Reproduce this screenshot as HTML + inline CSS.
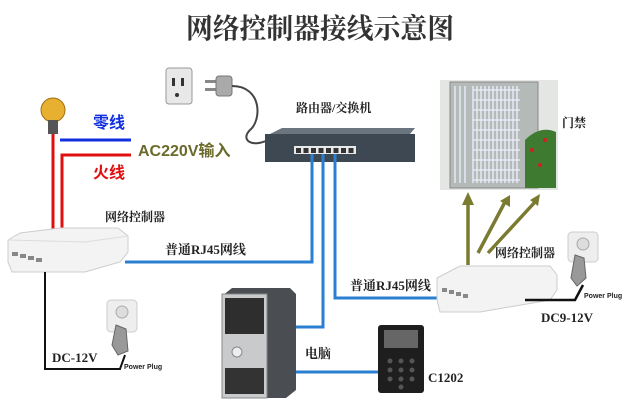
<!DOCTYPE html>
<html><head><meta charset="utf-8"><style>
body{margin:0;background:#fff;width:644px;height:410px;overflow:hidden}
svg{display:block}
text{font-family:"Liberation Serif","Noto Serif CJK SC",serif;font-weight:bold}
.s{font-family:"Liberation Sans","Noto Sans CJK SC",sans-serif}
</style></head><body>
<svg width="644" height="410" viewBox="0 0 644 410" xmlns="http://www.w3.org/2000/svg">
<rect width="644" height="410" fill="#fff"/>
<text x="320" y="38" text-anchor="middle" font-size="28" fill="#333" textLength="268" lengthAdjust="spacingAndGlyphs">网络控制器接线示意图</text>

<!-- bulb -->
<circle cx="53" cy="110" r="12" fill="#e8b030" stroke="#a07010"/>
<rect x="48" y="120" width="10" height="14" fill="#555"/>
<!-- wires -->
<path d="M53 134 V230" stroke="#e01010" stroke-width="3" fill="none"/>
<path d="M62 230 V155 H131" stroke="#e01010" stroke-width="3" fill="none"/>
<path d="M60 140 H131" stroke="#1030e0" stroke-width="3" fill="none"/>
<text x="93" y="128" font-size="16" fill="#1030e0" class="s" font-weight="bold">零线</text>
<text x="93" y="178" font-size="16" fill="#e01010" class="s" font-weight="bold">火线</text>
<text x="138" y="156" font-size="16" fill="#6a6a2a" class="s" font-weight="bold">AC220V输入</text>

<!-- outlet & plug -->
<rect x="166" y="68" width="26" height="36" rx="3" fill="#e8e8e8" stroke="#999"/>
<rect x="172" y="78" width="3" height="8" fill="#333"/><rect x="181" y="78" width="3" height="8" fill="#333"/>
<circle cx="177" cy="95" r="2" fill="#333"/>
<rect x="205" y="80" width="12" height="3" fill="#888"/><rect x="205" y="88" width="12" height="3" fill="#888"/>
<rect x="216" y="76" width="16" height="20" rx="3" fill="#aaa" stroke="#777"/>
<path d="M232 86 C262 86,262 120,250 130 C240 140,252 148,268 140" stroke="#444" stroke-width="2" fill="none"/>

<!-- switch -->
<text x="296" y="112" font-size="12" fill="#222">路由器/交换机</text>
<path d="M268 135 L282 128 H415 L410 134Z" fill="#6a7580"/>
<rect x="265" y="134" width="150" height="28" fill="#3e4852"/>
<rect x="294" y="146" width="62" height="8" fill="#e8e8e8"/>
<g fill="#333">
<rect x="296" y="148" width="5" height="5"/><rect x="303.5" y="148" width="5" height="5"/><rect x="311" y="148" width="5" height="5"/><rect x="318.5" y="148" width="5" height="5"/><rect x="326" y="148" width="5" height="5"/><rect x="333.5" y="148" width="5" height="5"/><rect x="341" y="148" width="5" height="5"/><rect x="348.5" y="148" width="5" height="5"/>
</g>

<!-- blue network lines -->
<g stroke="#2a7fd0" stroke-width="3" fill="none">
<path d="M125 262 H312 V154"/>
<path d="M295 327 H323 V154"/>
<path d="M335 154 V298 H442"/>
<path d="M295 372 H380"/>
</g>
<text x="165" y="254" font-size="13" fill="#222">普通RJ45网线</text>
<text x="350" y="290" font-size="13" fill="#222">普通RJ45网线</text>

<!-- left controller -->
<text x="105" y="221" font-size="12" fill="#222">网络控制器</text>
<path d="M8 240 L20 233 L60 228 H118 L128 236 V252 L120 262 L85 272 H12 L8 262Z" fill="#f3f3f3" stroke="#ccc"/>
<path d="M8 240 L85 242 L128 236" stroke="#ddd" fill="none"/>
<g fill="#888"><rect x="12" y="252" width="6" height="4"/><rect x="20" y="254" width="6" height="4"/><rect x="28" y="256" width="6" height="4"/><rect x="36" y="258" width="6" height="4"/></g>
<path d="M45 272 V369 H120 L125 355" stroke="#111" stroke-width="2" fill="none"/>
<text x="52" y="362" font-size="13" fill="#222">DC-12V</text>
<rect x="107" y="300" width="30" height="32" rx="4" fill="#eee" stroke="#ccc"/>
<circle cx="122" cy="312" r="6" fill="#ddd" stroke="#aaa"/>
<path d="M116 325 l10 4 l2 22 l-10 4 l-6 -10z" fill="#999" stroke="#666"/>
<text x="124" y="369" font-size="7" class="s" font-weight="bold" fill="#222">Power Plug</text>

<!-- door -->
<rect x="440" y="80" width="118" height="110" fill="#e4e6e4"/>
<rect x="450" y="82" width="88" height="106" fill="#b4bab8" stroke="#888"/>
<g stroke="#eef" stroke-width="1.3">
<path d="M473 86 V183 M477 86 V183 M481 86 V183 M485 86 V183 M489 86 V183 M493 86 V183 M497 86 V183 M501 86 V183 M505 86 V183 M509 86 V183 M513 86 V183 M517 86 V183"/>
<path d="M473 90 H520 M473 100 H520 M473 110 H520 M473 120 H520 M473 130 H520 M473 140 H520 M473 150 H520 M473 160 H520 M473 170 H520 M473 180 H520"/>
<path d="M455 86 V183 M460 86 V183 M465 86 V183"/>
</g>
<path d="M525 140 Q540 125 556 132 V188 H525Z" fill="#3e7a30"/>
<circle cx="532" cy="150" r="2" fill="#d02020"/><circle cx="545" cy="140" r="2" fill="#d02020"/><circle cx="540" cy="165" r="2" fill="#d02020"/>
<text x="562" y="127" font-size="12" fill="#222">门禁</text>

<!-- green arrows -->
<g stroke="#7a7a30" stroke-width="3.5" fill="none">
<path d="M468 265 V202"/><path d="M478 253 L505 202"/><path d="M488 253 L535 202"/>
</g>
<path d="M462 205 L468 192 L474 205Z M500 201 L510 195 L510 207Z M530 200 L540 194 L538 206Z" fill="#7a7a30"/>

<!-- right controller -->
<text x="495" y="257" font-size="12" fill="#222">网络控制器</text>
<path d="M437 278 L460 266 H550 L557 275 V290 L550 300 L480 312 H440 L437 300Z" fill="#f3f3f3" stroke="#ccc"/>
<g fill="#888"><rect x="442" y="288" width="5" height="4"/><rect x="449" y="290" width="5" height="4"/><rect x="456" y="292" width="5" height="4"/><rect x="463" y="294" width="5" height="4"/></g>
<path d="M525 300 H575 L583 285" stroke="#111" stroke-width="2.5" fill="none"/>
<rect x="568" y="232" width="30" height="30" rx="4" fill="#eee" stroke="#ccc"/>
<circle cx="583" cy="244" r="6" fill="#ddd" stroke="#aaa"/>
<path d="M575 255 l9 3 l2 20 l-9 8 l-6 -8z" fill="#999" stroke="#666"/>
<text x="584" y="298" font-size="7" class="s" font-weight="bold" fill="#222">Power Plug</text>
<text x="541" y="322" font-size="13" fill="#222">DC9-12V</text>

<!-- computer -->
<path d="M222 296 L232 288 H290 L296 294 V390 L286 398 H222Z" fill="#4a4d52"/>
<rect x="222" y="294" width="45" height="104" fill="#c8cacc" stroke="#888"/>
<rect x="225" y="298" width="39" height="36" fill="#2e2e2e"/>
<circle cx="237" cy="352" r="5" fill="#eee" stroke="#888"/>
<rect x="225" y="368" width="39" height="26" fill="#333"/>
<text x="305" y="358" font-size="13" fill="#222">电脑</text>

<!-- keypad -->
<rect x="378" y="325" width="46" height="68" rx="3" fill="#1e1e1e"/>
<rect x="384" y="330" width="34" height="18" fill="#666"/>
<g fill="#555"><circle cx="390" cy="361" r="2.5"/><circle cx="401" cy="361" r="2.5"/><circle cx="412" cy="361" r="2.5"/><circle cx="390" cy="370" r="2.5"/><circle cx="401" cy="370" r="2.5"/><circle cx="412" cy="370" r="2.5"/><circle cx="390" cy="379" r="2.5"/><circle cx="401" cy="379" r="2.5"/><circle cx="412" cy="379" r="2.5"/><circle cx="401" cy="387" r="2.5"/></g>
<text x="428" y="382" font-size="13" fill="#222">C1202</text>
</svg>
</body></html>
